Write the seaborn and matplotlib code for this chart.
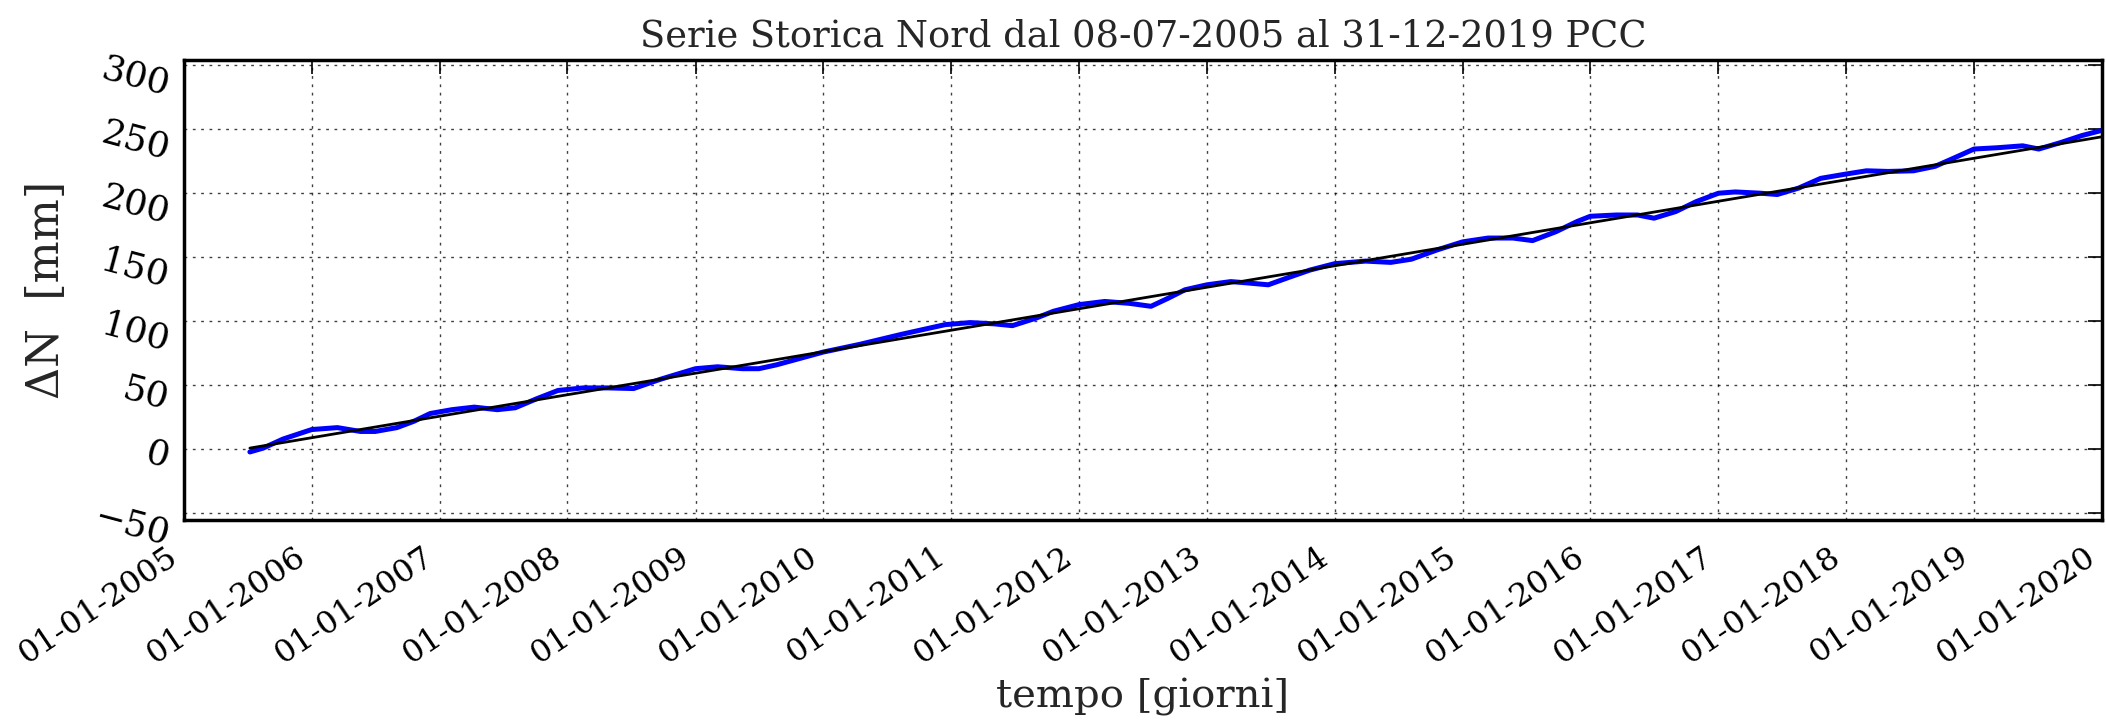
import matplotlib
matplotlib.use("Agg")
import matplotlib.pyplot as plt
import seaborn as sns
import pandas as pd

# ---- data ----
dates = ["2005-07-08", "2005-08-15", "2005-10-10", "2005-12-15", "2006-01-01",
         "2006-03-15", "2006-05-20", "2006-07-01", "2006-09-01", "2006-10-20",
         "2006-12-05", "2007-02-05", "2007-04-10", "2007-06-15", "2007-08-05",
         "2007-10-05", "2007-12-05", "2008-02-15", "2008-04-25", "2008-07-08",
         "2008-09-20", "2008-11-01", "2009-01-01", "2009-03-05", "2009-05-15",
         "2009-07-01", "2009-08-20", "2010-01-01", "2010-04-15", "2010-08-15",
         "2010-12-15", "2011-02-25", "2011-05-05", "2011-06-25", "2011-09-01",
         "2011-10-20", "2012-01-01", "2012-03-15", "2012-05-25", "2012-07-25",
         "2012-09-12", "2012-10-30", "2013-01-01", "2013-03-10", "2013-04-25",
         "2013-06-25", "2013-08-25", "2013-10-22", "2014-01-01", "2014-03-30",
         "2014-06-10", "2014-08-08", "2014-10-20", "2015-01-01", "2015-03-15",
         "2015-05-25", "2015-07-20", "2015-09-25", "2015-11-25", "2016-01-01",
         "2016-03-15", "2016-05-15", "2016-07-01", "2016-09-01", "2016-10-30",
         "2017-01-01", "2017-02-18", "2017-05-01", "2017-06-18", "2017-08-18",
         "2017-10-20", "2018-01-01", "2018-02-28", "2018-05-01", "2018-07-12",
         "2018-09-12", "2018-11-05", "2019-01-01", "2019-03-08", "2019-05-20",
         "2019-07-05", "2019-09-05", "2019-11-05", "2019-12-31"]
delta_n = [-2, 1, 8, 14, 15.5,
           17, 14, 14, 17, 22,
           28, 31, 33, 31, 32.5,
           39.5, 46, 48, 48, 47.5,
           54.5, 58, 63, 64.5, 63,
           63, 66, 76, 82, 90,
           97.4, 99, 98, 96.6, 102.5,
           107.8, 113, 115.5, 114, 111.7,
           118, 124.6, 128.5, 131, 130,
           128.5, 134.5, 140, 145, 147,
           146, 148.5, 155.7, 162, 165,
           165, 163, 170, 178, 182,
           183, 183, 180.5, 185.7, 193.5,
           200, 201, 200, 199, 204,
           211.6, 215, 217.5, 217, 217.5,
           221, 227.5, 234.5, 235.5, 237,
           234.5, 239.5, 245, 249]

trend_dates = ["2005-07-08", "2019-12-31"]
trend_values = [1.0, 244.0]

y_ticks = [-50, 0, 50, 100, 150, 200, 250, 300]
x_tick_years = list(range(2005, 2021))

title = "Serie Storica Nord dal 08-07-2005 al 31-12-2019 PCC"

# ---- styling ----
sns.set_theme(style="white")
plt.rcParams["font.family"] = ["DejaVu Serif"]
plt.rcParams["axes.unicode_minus"] = True

df = pd.DataFrame({"data": pd.to_datetime(dates), "dn": delta_n})
tr = pd.DataFrame({"data": pd.to_datetime(trend_dates), "dn": trend_values})

fig = plt.figure(figsize=(21.06, 7.23), dpi=100)
ax = fig.add_axes([0.0874, 0.281, 0.9106, 0.636])

sns.lineplot(data=df, x="data", y="dn", ax=ax, color="#0000ff", linewidth=3.6)
sns.lineplot(data=tr, x="data", y="dn", ax=ax, color="black", linewidth=2.0)

ax.set_xlim(pd.Timestamp("2005-01-01"), pd.Timestamp("2020-01-01"))
ax.set_ylim(-55, 304)

xt = [pd.Timestamp(f"{y}-01-01") for y in x_tick_years]
ax.set_xticks(xt)
ax.set_xticklabels([f"01-01-{y}" for y in x_tick_years], rotation=34,
                   ha="right", fontsize=23)
ax.set_yticks(y_ticks)
ax.set_yticklabels([str(v).replace("-", "\u2212") for v in y_ticks],
                   rotation=-15, fontsize=26)

ax.tick_params(axis="both", direction="in", length=10, width=1.2,
               top=True, right=True, colors="black", pad=8)
ax.tick_params(axis="x", pad=15)

ax.grid(True, linestyle=(0, (2, 4)), color="black", linewidth=1.0, alpha=0.75)

for s in ax.spines.values():
    s.set_linewidth(2.5)
    s.set_color("black")

ax.set_title(title, fontsize=26.5, pad=10)
ax.set_xlabel("tempo [giorni]", fontsize=29)
ax.xaxis.label.set_va("baseline")
ax.xaxis.set_label_coords(0.5, -0.409)
ax.set_ylabel("\u0394N  [mm]", fontsize=32, labelpad=16)

fig.savefig("out.png", dpi=100, facecolor="white")
